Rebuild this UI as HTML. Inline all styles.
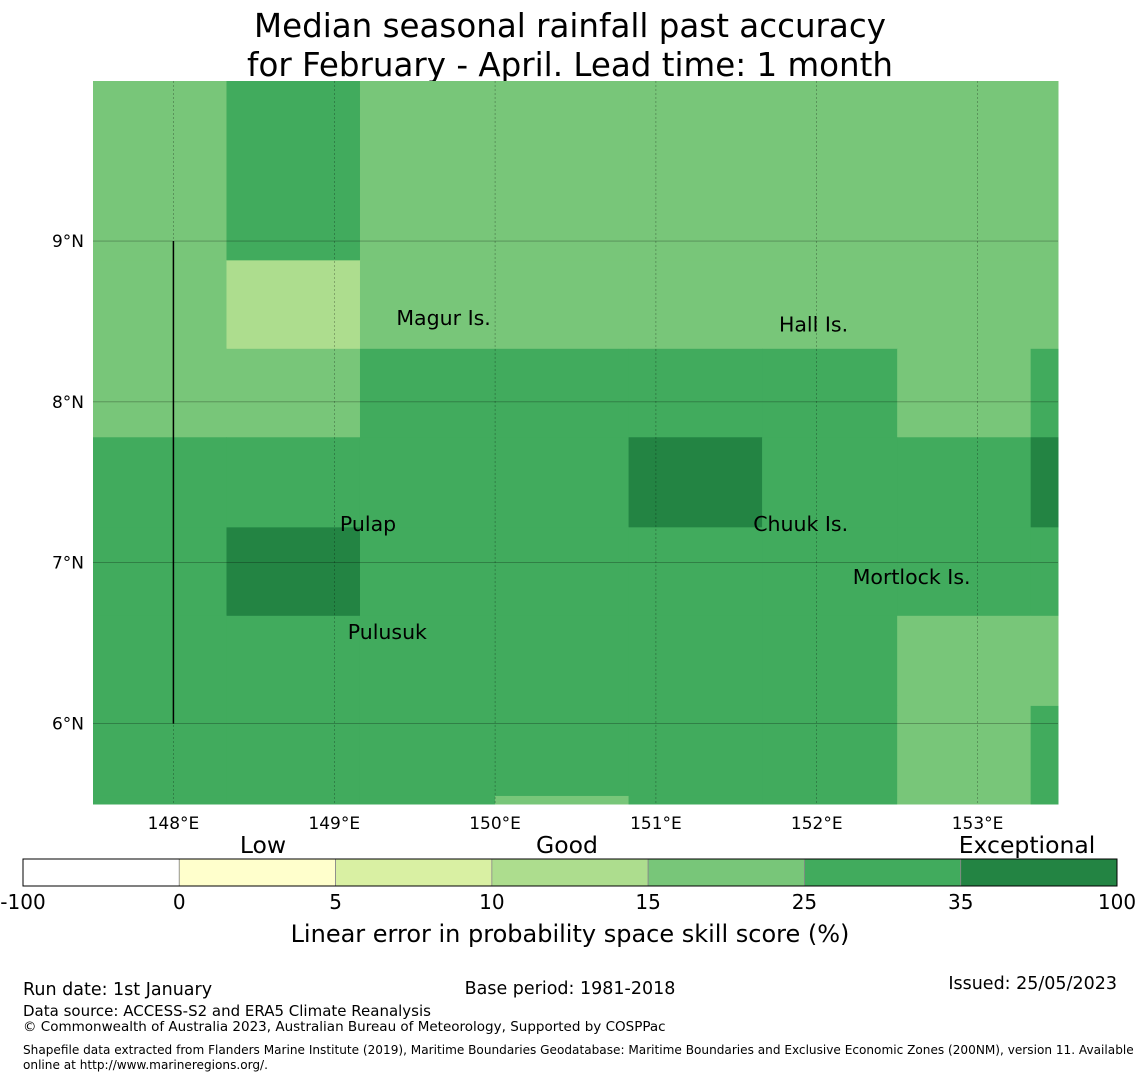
<!DOCTYPE html>
<html><head><meta charset="utf-8"><style>
body{margin:0;background:#fff;font-family:"Liberation Sans","DejaVu Sans",sans-serif}
svg text{font-family:"DejaVu Sans","Liberation Sans",sans-serif}
</style></head><body>
<svg id="c" width="1140" height="1080" xmlns="http://www.w3.org/2000/svg">
<text x="570" y="37" font-size="32.5" text-anchor="middle">Median seasonal rainfall past accuracy</text>
<text x="570" y="76" font-size="32.5" text-anchor="middle">for February - April. Lead time: 1 month</text>
<g id="map"></g>
<g id="cb"></g>
<text x="570" y="942" font-size="24" text-anchor="middle">Linear error in probability space skill score (%)</text>
<text x="23" y="995" font-size="17.5">Run date: 1st January</text>
<text x="570" y="994" font-size="17.5" text-anchor="middle">Base period: 1981-2018</text>
<text x="1117" y="989" font-size="17.5" text-anchor="end">Issued: 25/05/2023</text>
<text x="23" y="1016" font-size="15">Data source: ACCESS-S2 and ERA5 Climate Reanalysis</text>
<text x="23" y="1031" font-size="13.5">© Commonwealth of Australia 2023, Australian Bureau of Meteorology, Supported by COSPPac</text>
<text x="23" y="1054" font-size="12.1">Shapefile data extracted from Flanders Marine Institute (2019), Maritime Boundaries Geodatabase: Maritime Boundaries and Exclusive Economic Zones (200NM), version 11. Available</text>
<text x="23" y="1069" font-size="12.1">online at http://www.marineregions.org/.</text>
</svg>
<script>
const lonTicks=[148,149,150,151,152,153];
const latTicks=[6,7,8,9];
// skill values per grid cell, rows top->bottom, cols left->right
const skillRows=[
[20,30,20,20,20,20,20,20],
[20,12,20,20,20,20,20,20],
[20,20,30,30,30,30,20,30],
[30,30,30,30,40,30,30,40],
[30,40,30,30,30,30,30,30],
[30,30,30,30,30,30,20,20],
[30,30,30,30,30,30,20,30],
[30,30,30,20,30,30,20,30]];
const lonEdges=[147.5,148.33,149.16,150.0,150.83,151.66,152.5,153.33,153.5];
const latEdges=[10.0,8.88,8.33,7.78,7.22,6.67,6.11,5.55,5.5];
const cbBounds=[-100,0,5,10,15,25,35,100];
const cbColors=["#ffffff","#ffffcc","#d9f0a3","#addd8e","#78c679","#41ab5d","#238443"];
const islands=[["Magur Is.",149.68,8.52],["Hall Is.",151.98,8.48],["Pulap",149.21,7.24],["Chuuk Is.",151.9,7.24],["Mortlock Is.",152.59,6.91],["Pulusuk",149.33,6.57]];
const NS="http://www.w3.org/2000/svg";
const X0=93,X1=1058,Y0=81,Y1=804,LON0=147.5,LON1=153.5,LAT0=5.5,LAT1=9.995;
const x=l=>X0+(l-LON0)/(LON1-LON0)*(X1-X0);
const y=l=>Y0+(LAT1-l)/(LAT1-LAT0)*(Y1-Y0);
function col(v){for(let i=cbBounds.length-2;i>=0;i--)if(v>=cbBounds[i])return cbColors[i];return cbColors[0];}
function mk(t,a,p,txt){const e=document.createElementNS(NS,t);for(const k in a)e.setAttribute(k,a[k]);if(txt!==undefined)e.textContent=txt;p.appendChild(e);return e;}
const map=document.getElementById('map');
skillRows.forEach((row,r)=>row.forEach((v,c)=>{
 const x0=x(lonEdges[c]),x1=x(lonEdges[c+1]),y0=Math.max(Y0,y(latEdges[r])),y1=Math.min(Y1,y(latEdges[r+1]));
 const e=mk('rect',{x:x0,y:y0,width:x1-x0+0.5,height:y1-y0+0.5,fill:col(v)},map);
 
 
}));
lonTicks.forEach(l=>{
 const g=mk('line',{x1:x(l),x2:x(l),y1:Y0,y2:Y1,stroke:'#000','stroke-width':0.5,'stroke-dasharray':'2,2','stroke-opacity':0.5},map);
 
 
 const t=mk('text',{x:x(l),y:829,'font-size':17,'text-anchor':'middle'},map,l+'°E');
 
 
});
latTicks.forEach(l=>{
 const g=mk('line',{x1:X0,x2:X1,y1:y(l),y2:y(l),stroke:'#000','stroke-width':0.5,'stroke-opacity':0.5},map);
 
 
 const t=mk('text',{x:84,y:y(l)+6,'font-size':17,'text-anchor':'end'},map,l+'°N');
 
 
});
const bl=mk('line',{x1:x(148),x2:x(148),y1:y(9),y2:y(6),stroke:'#000','stroke-width':1.5},map);


islands.forEach(d=>{
 const t=mk('text',{x:x(d[1]),y:y(d[2])+7,'font-size':20.5,'text-anchor':'middle'},map,d[0]);
 
 
});
const cb=document.getElementById('cb');
const CX0=23,CW=1094,n=cbColors.length,sw=CW/n;
cbColors.forEach((c,i)=>{
 const r=mk('rect',{x:CX0+i*sw,y:859,width:sw,height:27,fill:c,stroke:'#888','stroke-width':0.8},cb);
 
 
});
mk('rect',{x:CX0,y:859,width:CW,height:27,fill:'none',stroke:'#000','stroke-width':1},cb);
cbBounds.forEach((b,i)=>{
 const t=mk('text',{x:CX0+i*sw,y:909,'font-size':20,'text-anchor':'middle'},cb,b);
 
 
});
[["Low",263],["Good",567],["Exceptional",1027]].forEach(d=>{
 const t=mk('text',{x:d[1],y:853,'font-size':23.5,'text-anchor':'middle'},cb,d[0]);
 
 
});
</script>
</body></html>
